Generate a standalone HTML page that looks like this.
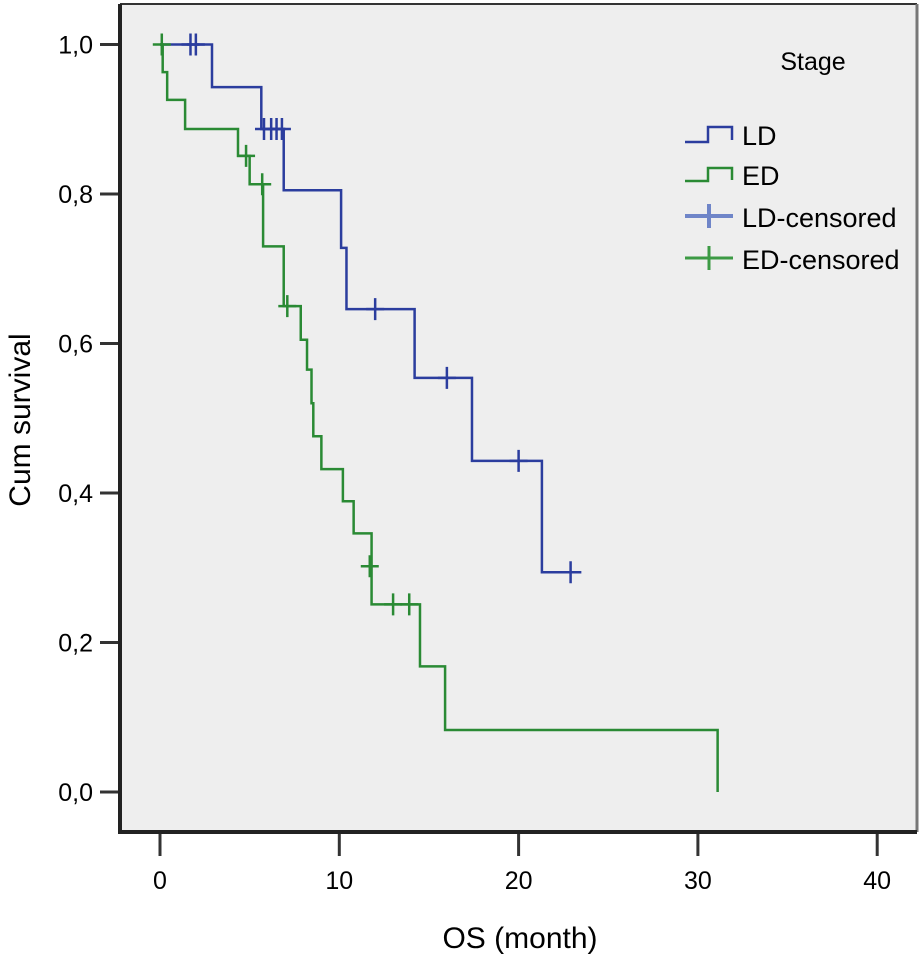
<!DOCTYPE html>
<html><head><meta charset="utf-8"><style>
html,body{margin:0;padding:0;background:#fff;}
svg{display:block;font-family:"Liberation Sans",Arial,sans-serif;}
.nar{font-family:"Liberation Sans Narrow","Liberation Sans",sans-serif;}
</style></head><body>
<svg id="chart" width="921" height="954" viewBox="0 0 921 954">
<rect x="120" y="4" width="797" height="828" fill="#eeeeee"/>
<g id="axes"></g>
<g id="series"></g>
<line x1="120" y1="4" x2="917" y2="4" stroke="#333" stroke-width="2"/>
<line x1="917" y1="4" x2="917" y2="832" stroke="#777" stroke-width="3"/>
<line x1="120" y1="4" x2="120" y2="834" stroke="#222" stroke-width="4"/>
<line x1="118" y1="832" x2="917" y2="832" stroke="#222" stroke-width="4"/>
<text x="520" y="948" font-size="30" text-anchor="middle" class="nar">OS (month)</text>
<text transform="translate(30,420) rotate(-90)" font-size="30" text-anchor="middle" class="nar">Cum survival</text>
<g font-size="27">
<text x="813" y="70" text-anchor="middle" font-size="25">Stage</text>
<path d="M685 142 H708 V127 H732 V140" fill="none" stroke="#2b3d9e" stroke-width="2.5"/>
<text x="742" y="145">LD</text>
<path d="M685 181 H708 V168 H732 V180" fill="none" stroke="#2a8a34" stroke-width="2.5"/>
<text x="742" y="185">ED</text>
<path d="M685 216 H733 M709 204 V228" fill="none" stroke="#6f85c8" stroke-width="4"/>
<text x="742" y="227">LD-censored</text>
<path d="M685 258 H733 M709 246 V270" fill="none" stroke="#3c9a44" stroke-width="3"/>
<text x="742" y="269">ED-censored</text>
</g>
</svg>
<script>
const xTicks=[0,10,20,30,40];
const yTicks=[0,0.2,0.4,0.6,0.8,1.0];
const yTickLabels=["0,0","0,2","0,4","0,6","0,8","1,0"];
const ldTimes=[0,2.9,5.65,6.9,10.1,10.4,14.2,17.4,21.3,23.5];
const ldSurv=[1.0,0.943,0.887,0.805,0.728,0.646,0.554,0.443,0.294,0.294];
const ldCensT=[1.7,2.0,5.8,6.2,6.5,6.8,12.0,16.0,20.0,22.9];
const ldCensS=[1.0,1.0,0.887,0.887,0.887,0.887,0.646,0.554,0.443,0.294];
const edTimes=[0,0.15,0.4,1.4,4.35,5.0,5.75,6.9,7.85,8.2,8.45,8.55,9.0,10.2,10.8,11.8,14.5,15.9,31.1];
const edSurv=[1.0,0.963,0.926,0.887,0.851,0.813,0.730,0.650,0.605,0.565,0.52,0.476,0.432,0.389,0.346,0.251,0.168,0.083,0.0];
const edCensT=[0.1,4.8,5.7,7.1,11.7,13.0,13.9];
const edCensS=[1.0,0.851,0.813,0.65,0.302,0.251,0.251];
const X=t=>160+t*17.93, Y=s=>792-s*747.5;
const NS="http://www.w3.org/2000/svg";
const ax=document.getElementById('axes'), se=document.getElementById('series');
function mk(tag,attrs,parent){const e=document.createElementNS(NS,tag);for(const k in attrs)e.setAttribute(k,attrs[k]);parent.appendChild(e);return e;}
xTicks.forEach(t=>{
 const l=mk('line',{x1:X(t),x2:X(t),y1:832,y2:856,stroke:'#333','stroke-width':3},ax);
 
 
 const tx=mk('text',{x:X(t),y:889,'font-size':25,'text-anchor':'middle','class':'nar'},ax);
 tx.textContent=t;
 
 
});
yTicks.forEach((v,i)=>{
 const l=mk('line',{x1:100,x2:120,y1:Y(v),y2:Y(v),stroke:'#333','stroke-width':3},ax);
 
 
 const tx=mk('text',{x:93,y:Y(v)+9,'font-size':25,'text-anchor':'end','class':'nar'},ax);
 tx.textContent=yTickLabels[i];
 
 
});
function step(times,surv,color,name){
 let d='M'+X(times[0])+' '+Y(surv[0]);
 for(let i=1;i<times.length;i++){d+=' H'+X(times[i])+' V'+Y(surv[i]);}
 const p=mk('path',{d:d,fill:'none',stroke:color,'stroke-width':2.5},se);
 
 
}
function cens(ts,ss,color,name){
 ts.forEach((t,i)=>{
  const p=mk('path',{d:'M'+(X(t)-9)+' '+Y(ss[i])+' h18 M'+X(t)+' '+(Y(ss[i])-11)+' v22',stroke:color,'stroke-width':2.5,fill:'none'},se);
  
  
 });
}
step(ldTimes,ldSurv,'#2b3d9e','ld-curve');
step(edTimes,edSurv,'#2a8a34','ed-curve');
cens(ldCensT,ldCensS,'#2b3d9e','ld-censor-mark');
cens(edCensT,edCensS,'#2a8a34','ed-censor-mark');
</script>
</body></html>
